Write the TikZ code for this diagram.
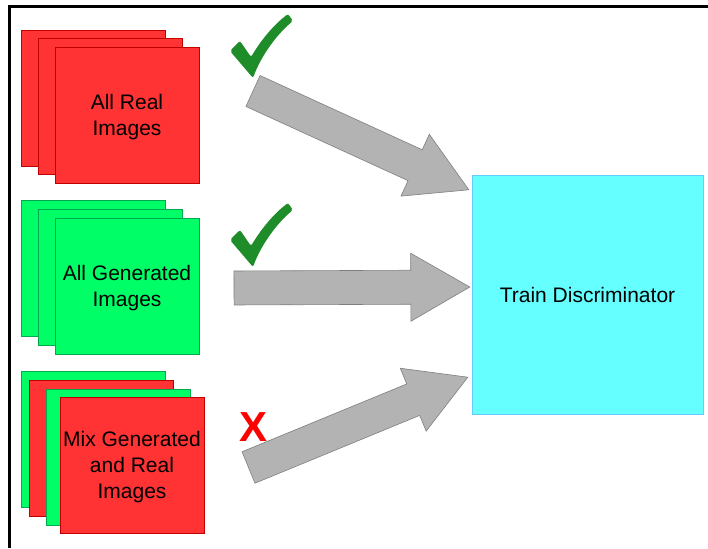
\documentclass[tikz,border=0pt]{standalone}
\usepackage{fontspec}
\setmainfont{Liberation Sans}
\usetikzlibrary{calc, positioning}

\definecolor{sheetred}{HTML}{FF3333}
\definecolor{sheetredline}{HTML}{C00000}
\definecolor{sheetgreen}{HTML}{00FF66}
\definecolor{sheetgreenline}{HTML}{00A850}
\definecolor{trainfill}{HTML}{66FFFF}
\definecolor{trainline}{HTML}{66CCFF}
\definecolor{arrowfill}{HTML}{B3B3B3}
\definecolor{arrowline}{HTML}{7F7F7F}
\definecolor{tickgreen}{HTML}{1E8C28}

% fat block arrow from a tail point to a tip point
\newcommand{\blockarrow}[2]{%
  \path[bigarrow] let \p1=($(#2)-(#1)$), \n1={atan2(\y1,\x1)}, \n2={veclen(\x1,\y1)-59} in
    ($(#1)+(\n1+90:17)$) -- ($(#1)+(\n1:\n2)+(\n1+90:17)$) -- ($(#1)+(\n1:\n2)+(\n1+90:34)$)
    -- (#2) -- ($(#1)+(\n1:\n2)+(\n1-90:34)$) -- ($(#1)+(\n1:\n2)+(\n1-90:17)$)
    -- ($(#1)+(\n1-90:17)$) -- cycle;}

\tikzset{
    checkmark/.pic={
        \fill[tickgreen, rounded corners=2pt] (-21,25) -- (-11,35) -- (0,19)
            .. controls (12,39) and (25,53) .. (37,62) -- (42,55)
            .. controls (26,42) and (10,20) .. (2,-2) -- cycle;
    }
}

\begin{document}
\begin{tikzpicture}[
    x=1pt, y=1pt,
    font=\fontsize{21}{26}\selectfont,
    sheet/.style={
        rectangle,
        thin,
        align=center,
        inner sep=0pt,
        minimum width=144,
        minimum height=136
    },
    redsheet/.style={
        sheet,
        draw=sheetredline,
        fill=sheetred
    },
    greensheet/.style={
        sheet,
        draw=sheetgreenline,
        fill=sheetgreen
    },
    trainbox/.style={
        rectangle,
        draw=trainline,
        fill=trainfill,
        thin,
        align=center,
        minimum width=231,
        minimum height=239
    },
    bigarrow/.style={
        draw=arrowline,
        fill=arrowfill,
        line width=0.6pt,
        line join=miter
    },
    cross/.style={
        text=red,
        font=\fontsize{42}{42}\selectfont\bfseries,
        inner sep=0pt
    }
]
    \useasboundingbox (0,0) rectangle (708,548);

    % Frame
    \draw[line width=3pt] (9.5,0) -- (9.5,541.5) -- (708,541.5);

    % Stack 1: real images
    \node [redsheet] (real3) at (93,450) {};
    \node [redsheet] (real2) at (110,441.5) {};
    \node [redsheet] (real1) at (127,433) {\rule{0pt}{20pt}All Real\\Images};

    % Stack 2: generated images
    \node [greensheet] (gen3) at (93,279.5) {};
    \node [greensheet] (gen2) at (110,271) {};
    \node [greensheet] (gen1) at (127,262) {\rule{0pt}{20pt}All Generated\\Images};

    % Stack 3: mixed images
    \node [greensheet] (mix4) at (93,108.5) {};
    \node [redsheet] (mix3) at (101.5,100) {};
    \node [greensheet] (mix2) at (118.5,91) {};
    \node [redsheet] (mix1) at (132,83) {\rule{0pt}{20pt}Mix Generated\\and Real\\Images};

    % Discriminator
    \node [trainbox] (train) at (587.5,253.5) {Train Discriminator};

    % Arrow ends
    \coordinate (tail1) at (253,457);
    \coordinate (tail2) at (234,260);
    \coordinate (tail3) at (248.5,80.5);
    \coordinate (tip1) at ($(train.north west)+(-3,-15)$);
    \coordinate (tip2) at ($(train.west)+(-2,7.5)$);
    \coordinate (tip3) at ($(train.south west)+(-4,37)$);

    % Arrows
    \blockarrow{tail1}{tip1}
    \blockarrow{tail2}{tip2}
    \blockarrow{tail3}{tip3}

    % Marks
    \pic (okreal) at (251,472) {checkmark};
    \pic (okgen) at (251,283) {checkmark};
    \node [cross] (nomix) at (254,121) {X};

\end{tikzpicture}
\end{document}
